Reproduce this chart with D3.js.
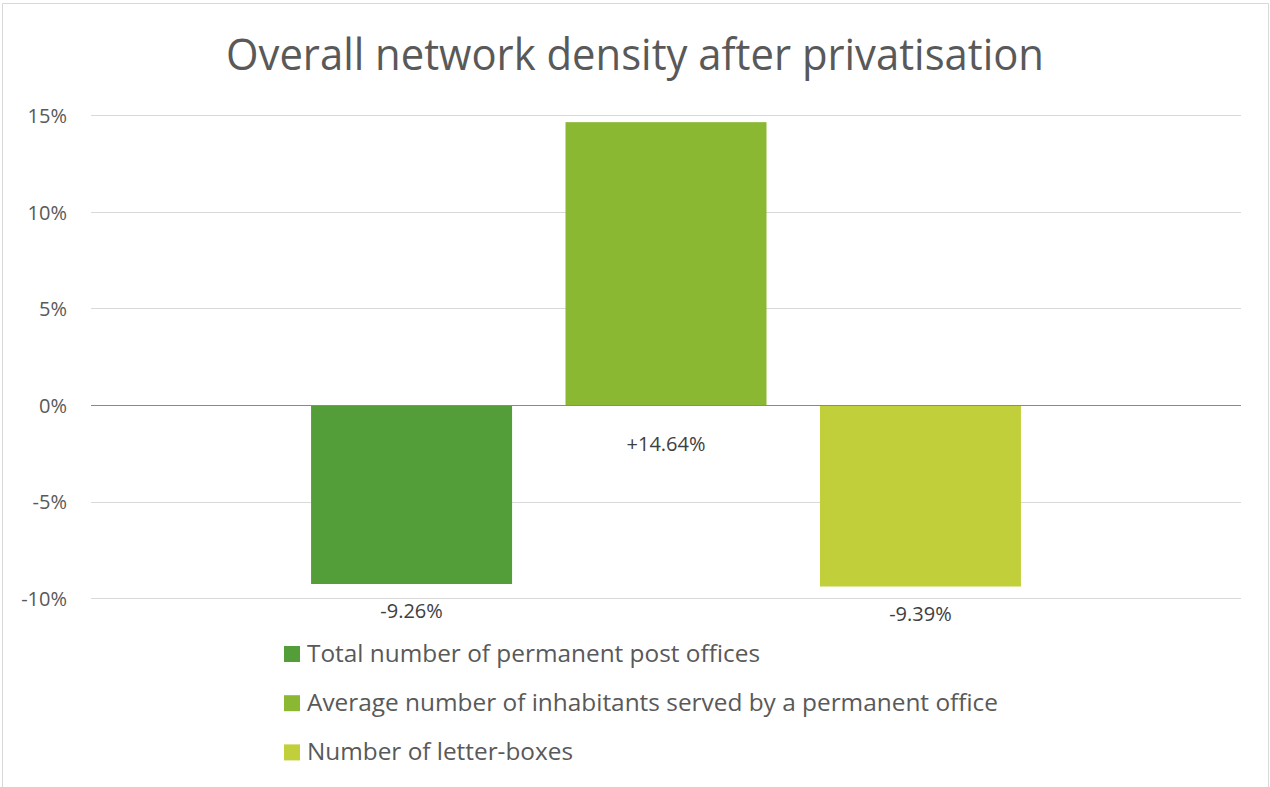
<!DOCTYPE html>
<html>
<head>
<meta charset="utf-8">
<script src="https://cdn.jsdelivr.net/npm/d3@7"></script>
<style>
  html, body { margin: 0; padding: 0; background: #ffffff; }
  svg { display: block; }
  text { font-family: "Open Sans", "Noto Sans", sans-serif; }
</style>
</head>
<body>
<svg id="chart" width="1270" height="787"></svg>
<script>
// Chart content
const chartTitle = "Overall network density after privatisation";
const categories = ["Network density"];
const seriesNames = [
  "Total number of permanent post offices",
  "Average number of inhabitants served by a permanent office",
  "Number of letter-boxes"
];
const seriesValues = [-9.26, 14.64, -9.39];           // percent change
const seriesColors = ["#549E39", "#8AB833", "#C0CF3A"];
const yTickValues = [-10, -5, 0, 5, 10, 15];
const yTickLabels = ["-10%", "-5%", "0%", "5%", "10%", "15%"];

const svg = d3.select("#chart");
const W = 1270, H = 787;

// Outer frame (chart area border, open at the bottom)
svg.append("path")
  .attr("d", `M2.5,${H} L2.5,3.5 L1268.5,3.5 L1268.5,${H}`)
  .attr("fill", "none")
  .attr("stroke", "#D9D9D9")
  .attr("stroke-width", 1);

// Plot area
const plot = { left: 91, right: 1241, top: 115.2, bottom: 598.3 };

const y = d3.scaleLinear()
  .domain([d3.min(yTickValues), d3.max(yTickValues)])
  .range([plot.bottom, plot.top]);

const x0 = d3.scaleBand()
  .domain(categories)
  .range([plot.left, plot.right])
  .paddingInner(0)
  .paddingOuter(0.31);

const x1 = d3.scaleBand()
  .domain(seriesNames)
  .range([0, x0.bandwidth()])
  .paddingInner(0.21)
  .paddingOuter(0);

// Gridlines
svg.append("g")
  .selectAll("line")
  .data(yTickValues.filter(v => v !== 0))
  .join("line")
  .attr("x1", plot.left)
  .attr("x2", plot.right)
  .attr("y1", d => Math.round(y(d)) + 0.5)
  .attr("y2", d => Math.round(y(d)) + 0.5)
  .attr("stroke", "#D9D9D9")
  .attr("stroke-width", 1.2);

// Y axis tick labels
const yAxis = d3.axisLeft(y)
  .tickValues(yTickValues)
  .tickFormat((d, i) => yTickLabels[i])
  .tickSize(0)
  .tickPadding(0);

const yAxisG = svg.append("g")
  .attr("transform", "translate(67,0)")
  .call(yAxis);
yAxisG.select(".domain").remove();
yAxisG.selectAll("text")
  .attr("fill", "#595959")
  .attr("font-size", 20)
  .attr("dy", "0.36em")
  .attr("x", 0)
  .style("font-family", '"Open Sans", "Noto Sans", sans-serif');

// Bars
const bars = seriesNames.map((name, i) => ({ name, value: seriesValues[i], color: seriesColors[i], cat: categories[0] }));

svg.append("g")
  .selectAll("rect")
  .data(bars)
  .join("rect")
  .attr("x", d => x0(d.cat) + x1(d.name))
  .attr("width", x1.bandwidth())
  .attr("y", d => y(Math.max(0, d.value)))
  .attr("height", d => Math.abs(y(d.value) - y(0)))
  .attr("fill", d => d.color);

// Zero axis line
svg.append("line")
  .attr("x1", plot.left)
  .attr("x2", plot.right)
  .attr("y1", Math.round(y(0)) + 0.5)
  .attr("y2", Math.round(y(0)) + 0.5)
  .attr("stroke", "#898989")
  .attr("stroke-width", 1.2);

// Data labels
const fmt = v => (v > 0 ? "+" : "-") + Math.abs(v).toFixed(2) + "%";
svg.append("g")
  .selectAll("text")
  .data(bars)
  .join("text")
  .attr("x", d => x0(d.cat) + x1(d.name) + x1.bandwidth() / 2)
  .attr("y", d => d.value < 0 ? y(d.value) + 34 : y(0) + 46)
  .attr("text-anchor", "middle")
  .attr("font-size", 20)
  .attr("fill", "#404040")
  .text(d => fmt(d.value));

// Title
svg.append("text")
  .attr("x", 635)
  .attr("y", 70)
  .attr("text-anchor", "middle")
  .attr("font-size", 43)
  .attr("fill", "#595959")
  .attr("textLength", 818)
  .attr("lengthAdjust", "spacingAndGlyphs")
  .text(chartTitle);

// Legend
const legendWidths = [453, 691, 266];
const legend = svg.append("g");
const rows = legend.selectAll("g")
  .data(bars)
  .join("g")
  .attr("transform", (d, i) => `translate(284,${646 + i * 49.2})`);
rows.append("rect")
  .attr("width", 16)
  .attr("height", 16)
  .attr("fill", d => d.color);
rows.append("text")
  .attr("x", 23)
  .attr("y", 16)
  .attr("font-size", 23)
  .attr("fill", "#595959")
  .attr("textLength", (d, i) => legendWidths[i])
  .attr("lengthAdjust", "spacingAndGlyphs")
  .text(d => d.name);
</script>
</body>
</html>
